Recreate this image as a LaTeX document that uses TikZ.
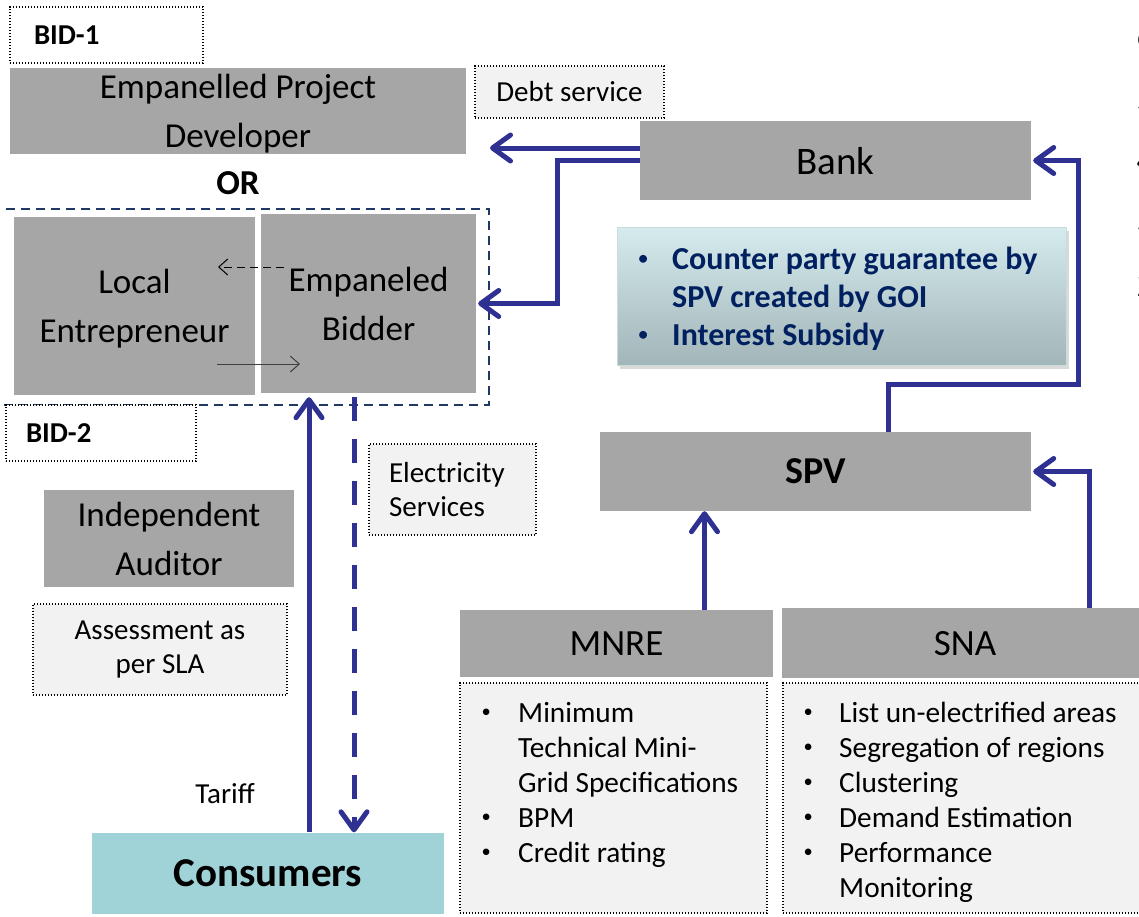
\documentclass[tikz,border=0pt]{standalone}
\usepackage{fontspec}
\setmainfont{Carlito}
\usetikzlibrary{arrows.meta, calc, shadows}

\definecolor{boxgray}{HTML}{A6A6A6}
\definecolor{notegray}{HTML}{F2F2F2}
\definecolor{flownavy}{HTML}{2E3192}
\definecolor{groupnavy}{HTML}{203864}
\definecolor{consumerteal}{HTML}{9FD3D7}
\definecolor{infotop}{HTML}{D5EBEE}
\definecolor{infobottom}{HTML}{A2B5B8}
\definecolor{infoedge}{HTML}{C8DCDE}
\definecolor{infotext}{HTML}{002060}

\newcommand{\boxfont}{\fontsize{35}{49}\selectfont}
\newcommand{\notefont}{\fontsize{29}{34}\selectfont}
\newcommand{\headfont}{\fontsize{37}{44}\selectfont}
\newcommand{\listfont}{\fontsize{29.3}{35}\selectfont}
\newcommand{\bul}[1]{\makebox[#1]{\raisebox{5pt}{\fontsize{18.5}{18.5}\selectfont\textbullet}}}

\tikzset{
  graybox/.style={fill=boxgray, inner sep=0pt, align=center, text depth=0pt},
  notebox/.style={draw, line width=1.4pt, dash pattern=on 1.4pt off 1.6pt,
    fill=notegray, inner sep=0pt},
  bidbox/.style={notebox, fill=white, align=left,
    font=\fontsize{28.8}{32}\selectfont\bfseries},
  flow/.style={flownavy, line width=5pt,
    -{Straight Barb[round, length=18pt, width=26pt]}},
  thinflow/.style={line width=1pt, -{Straight Barb[length=9pt, width=16pt]}},
}

\begin{document}
\begin{tikzpicture}[x=1pt, y=-1pt]
  \useasboundingbox (0,0) rectangle (1139,916);

  % bid 1: one developer
  \node[bidbox, minimum width=193pt, minimum height=56pt, text width=145pt, inner xsep=24pt] (bidone) at (106.5,35) {BID-1};
  \node[graybox, minimum width=456pt, minimum height=86pt, font=\boxfont] (developer) at (238,111) {Empanelled Project\\Developer};
  \node[font=\fontsize{35}{40}\selectfont\bfseries] (or) at (238,183) {OR};

  % bid 2: bidder with local entrepreneur
  \node[draw=groupnavy, line width=1.6pt, dash pattern=on 9pt off 6pt, minimum width=500pt, minimum height=196pt, inner sep=0pt] (bidtwogroup) at (239,307) {};
  \node[graybox, minimum width=241pt, minimum height=178pt, font=\boxfont] (entrepreneur) at (134.5,306) {Local\\Entrepreneur};
  \node[graybox, minimum width=215pt, minimum height=179pt, font=\boxfont] (bidder) at (368.5,303.5) {Empaneled\\Bidder};
  \node[bidbox, minimum width=190pt, minimum height=56pt, text width=150pt, inner xsep=20pt] (bidtwo) at (101,433) {BID-2};

  \coordinate (subfrom) at (284,267);
  \coordinate (subto) at (218,267);
  \coordinate (repfrom) at (217,364);
  \coordinate (repto) at (300,364);
  \draw[thinflow, dash pattern=on 8pt off 5pt] (subfrom) -- (subto);
  \draw[thinflow, black!75] (repfrom) -- (repto);

  % auditor and consumers
  \node[graybox, minimum width=250pt, minimum height=97pt, font=\boxfont] (auditor) at (169,538.5) {Independent\\Auditor};
  \node[notebox, minimum width=254pt, minimum height=91pt, align=center, font=\notefont] (assessment) at (160,649.5) {Assessment as\\per SLA};
  \node[notebox, minimum width=167pt, minimum height=91pt, text width=127pt, inner xsep=20pt, align=left, font=\notefont] (services) at (452.5,489.5) {Electricity\\Services};
  \node[font=\notefont] (tariff) at (225,794) {Tariff};
  \node[fill=consumerteal, minimum width=352pt, minimum height=81pt, inner sep=0pt, font=\fontsize{41}{48}\selectfont\bfseries] (consumers) at (268,873) {Consumers};

  % finance side
  \node[notebox, minimum width=189pt, minimum height=52pt, font=\notefont] (debt) at (569.5,92) {Debt service};
  \node[graybox, minimum width=391pt, minimum height=79pt, font=\fontsize{39}{44}\selectfont] (bank) at (835.5,160.5) {Bank};
  \node[top color=infotop, bottom color=infobottom, draw=infoedge, line width=1pt, minimum width=449pt, minimum height=138pt,
    drop shadow={shadow xshift=3pt, shadow yshift=-4pt, opacity=0.3}] (support) at (841.5,296) {};
  \node[anchor=base west, inner sep=0pt, text=infotext, font=\fontsize{32}{38}\selectfont\bfseries] (supporttext) at (614,269)
    {\begin{tabular}[t]{@{}l@{}l@{}}
      \bul{58pt} & Counter party guarantee by\\
                 & SPV created by GOI\\
      \bul{58pt} & Interest Subsidy
    \end{tabular}};
  \node[graybox, minimum width=431pt, minimum height=79pt, font=\fontsize{38}{44}\selectfont\bfseries] (spv) at (815.5,471.5) {SPV};

  % ministry and state agency
  \node[graybox, minimum width=313pt, minimum height=67pt, font=\headfont] (mnre) at (616.5,643.5) {MNRE};
  \node[graybox, minimum width=366pt, minimum height=70pt, font=\headfont] (sna) at (965,643) {SNA};
  \node[notebox, minimum width=307pt, minimum height=230pt] (mnrebox) at (613.5,798) {};
  \node[notebox, minimum width=367pt, minimum height=230pt] (snabox) at (966.5,798) {};
  \node[anchor=base west, inner sep=0pt, font=\listfont] (mnrelist) at (454,722)
    {\begin{tabular}[t]{@{}l@{}l@{}}
      \bul{64pt} & Minimum\\
                 & Technical Mini-\\
                 & Grid Specifications\\
      \bul{64pt} & BPM\\
      \bul{64pt} & Credit rating
    \end{tabular}};
  \node[anchor=base west, inner sep=0pt, font=\listfont] (snalist) at (777,722)
    {\begin{tabular}[t]{@{}l@{}l@{}}
      \bul{62pt} & List un-electrified areas\\
      \bul{62pt} & Segregation of regions\\
      \bul{62pt} & Clustering\\
      \bul{62pt} & Demand Estimation\\
      \bul{62pt} & Performance\\
                 & Monitoring
    \end{tabular}};

  % numbering running off the edge
  \node[anchor=base west, inner sep=0pt, font=\fontsize{38}{62}\selectfont] (edgenums) at (1136.5,48)
    {\begin{tabular}[t]{@{}l@{}}6\\5\\4\\3\\2\\1\end{tabular}};

  % flows
  \coordinate (debtend) at (490,148);
  \draw[flow] (bank.west |- debtend) -- (debtend);
  \draw[flow] (bank.west) -- ++(-82,0) |- ([xshift=2pt]bidder.east);
  \draw[flow] ([xshift=73pt]spv.north) -- ++(0,-47) -| ([xshift=47pt]bank.east) -- ([xshift=2pt]bank.east);
  \draw[flow] ([xshift=88pt]mnre.north) -- ([xshift=88pt]mnre.north |- spv.south);
  \draw[flow] ([xshift=124pt]sna.north) |- ([xshift=2pt]spv.east);
  \draw[flow, shorten >=4pt] ([xshift=41pt]consumers.north) -- ([xshift=41pt]consumers.north |- bidder.south);
  \draw[flow, dash pattern=on 24pt off 18pt] ([xshift=-14.5pt]bidder.south) ++(0,4) -- ([xshift=-14.5pt]bidder.south |- consumers.north);
\end{tikzpicture}
\end{document}
